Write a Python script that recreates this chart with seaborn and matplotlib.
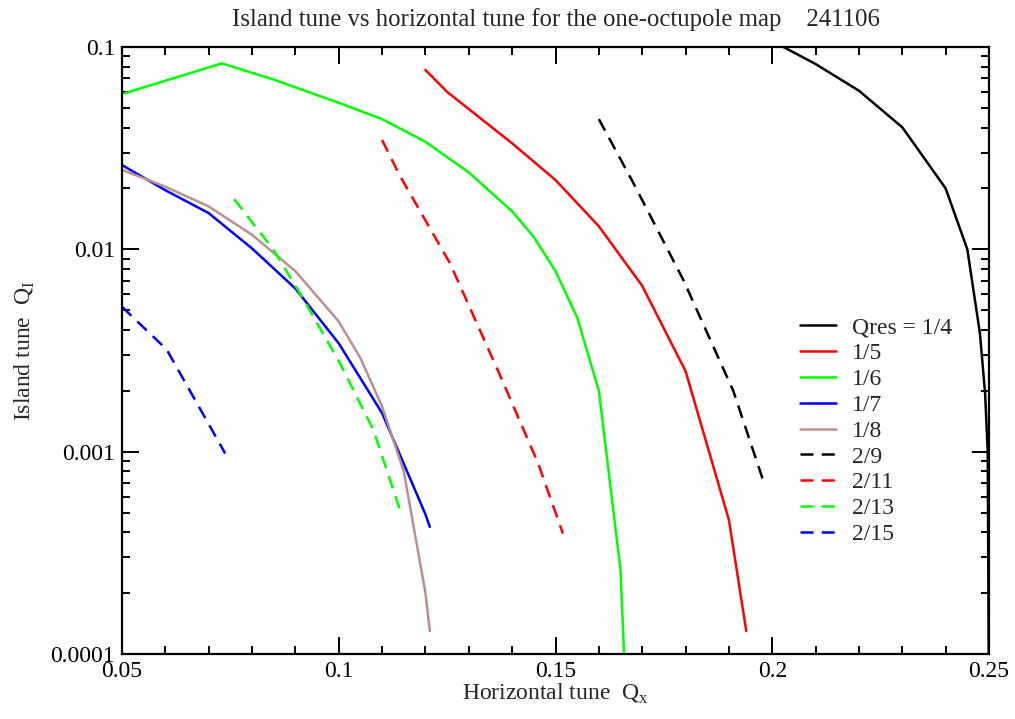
import matplotlib
matplotlib.use("Agg")
import matplotlib.pyplot as plt
import numpy as np
import pandas as pd
import seaborn as sns
from matplotlib.ticker import FixedLocator, LogLocator, NullFormatter, MultipleLocator

# island tune curves (x = horizontal tune, y = island tune)
q4_x = [0.2, 0.21, 0.22, 0.23, 0.24, 0.245, 0.2479, 0.2491, 0.2497, 0.25]
q4_y = [0.107, 0.0824, 0.0608, 0.0401, 0.020, 0.010, 0.00385, 0.00194, 0.001, 0.00005]

q5_x = [0.12, 0.125, 0.14, 0.15, 0.16, 0.17, 0.18, 0.19, 0.194]
q5_y = [0.077, 0.060, 0.0334, 0.022, 0.013, 0.0066, 0.0025, 0.00046, 0.00013]

q6_x = [0.0505, 0.073, 0.085, 0.1, 0.11, 0.12, 0.13, 0.14, 0.145, 0.15, 0.155, 0.16, 0.165, 0.166]
q6_y = [0.059, 0.083, 0.069, 0.053, 0.044, 0.034, 0.024, 0.0154, 0.0115, 0.0078, 0.0046, 0.0020, 0.00026, 0.00008]

q7_x = [0.05, 0.06, 0.07, 0.08, 0.09, 0.1, 0.11, 0.12, 0.121]
q7_y = [0.0261, 0.0196, 0.0151, 0.0101, 0.0064, 0.00343, 0.00155, 0.00049, 0.000425]

q8_x = [0.05, 0.06, 0.07, 0.08, 0.09, 0.1, 0.105, 0.11, 0.115, 0.12, 0.121]
q8_y = [0.0247, 0.0204, 0.0163, 0.0118, 0.0078, 0.0044, 0.0029, 0.00167, 0.0008, 0.0002, 0.00013]

q9_x = [0.16, 0.168, 0.1795, 0.191, 0.198]
q9_y = [0.044, 0.0212, 0.00705, 0.0020, 0.00071]

q11_x = [0.11, 0.114, 0.1257, 0.137, 0.146, 0.1517]
q11_y = [0.0347, 0.0233, 0.0085, 0.00244, 0.000875, 0.000394]

q13_x = [0.0759, 0.085, 0.091, 0.1003, 0.108, 0.114]
q13_y = [0.0177, 0.0099, 0.0061, 0.00273, 0.00128, 0.000525]

q15_x = [0.05, 0.0603, 0.0738]
q15_y = [0.0052, 0.0032, 0.00098]

series = [
    ("Qres = 1/4", q4_x, q4_y, "black", "-"),
    ("1/5", q5_x, q5_y, "#ff0000", "-"),
    ("1/6", q6_x, q6_y, "#00ff00", "-"),
    ("1/7", q7_x, q7_y, "#0000ff", "-"),
    ("1/8", q8_x, q8_y, "#bc8f8f", "-"),
    ("2/9", q9_x, q9_y, "black", "--"),
    ("2/11", q11_x, q11_y, "#ff0000", "--"),
    ("2/13", q13_x, q13_y, "#00ff00", "--"),
    ("2/15", q15_x, q15_y, "#0000ff", "--"),
]

sns.set_style("ticks")
plt.rcParams["font.family"] = ["Liberation Serif", "DejaVu Serif"]
plt.rcParams["mathtext.fontset"] = "custom"
plt.rcParams["mathtext.rm"] = "Liberation Serif"

fig = plt.figure(figsize=(10.15, 7.19), dpi=100)
ax = fig.add_axes([0.1202, 0.0904, 0.8542, 0.8442])

for label, xs, ys, color, ls in series:
    df = pd.DataFrame({"x": xs, "y": ys})
    style = "-" if ls == "-" else (0, (5.2, 3.3))
    sns.lineplot(data=df, x="x", y="y", ax=ax, color=color, linewidth=1.8,
                 linestyle=style, sort=False, estimator=None, label=label)

ax.set_yscale("log")
ax.set_xlim(0.05, 0.25)
ax.set_ylim(0.0001, 0.1)

ax.xaxis.set_major_locator(FixedLocator([0.05, 0.1, 0.15, 0.2, 0.25]))
ax.set_xticklabels(["0.05", "0.1", "0.15", "0.2", "0.25"])
ax.xaxis.set_minor_locator(MultipleLocator(0.01))
ax.yaxis.set_major_locator(FixedLocator([0.0001, 0.001, 0.01, 0.1]))
ax.set_yticklabels(["0.0001", "0.001", "0.01", "0.1"])
ax.yaxis.set_minor_locator(LogLocator(base=10, subs=np.arange(2, 10)))
ax.yaxis.set_minor_formatter(NullFormatter())

ax.tick_params(which="both", direction="in", top=True, right=True,
               width=1.4, colors="black", labelsize=17)
ax.tick_params(which="major", length=12, pad=5)
ax.tick_params(which="minor", length=6)
for sp in ax.spines.values():
    sp.set_linewidth(1.6)
    sp.set_color("black")

ax.set_xlabel(r"Horizontal tune  Q$_\mathrm{x}$", fontsize=17, labelpad=0)
ax.set_ylabel(r"Island tune  Q$_\mathrm{I}$", fontsize=17, labelpad=10)
ax.set_title("Island tune vs horizontal tune for the one-octupole map    241106",
             fontsize=17.8, pad=15)

ax.legend(loc="upper left", bbox_to_anchor=(0.779, 0.572), bbox_transform=fig.transFigure,
          frameon=False, fontsize=17, handlelength=1.5, handletextpad=0.7,
          labelspacing=0.18, borderaxespad=0)

fig.savefig("out.png", dpi=100)
